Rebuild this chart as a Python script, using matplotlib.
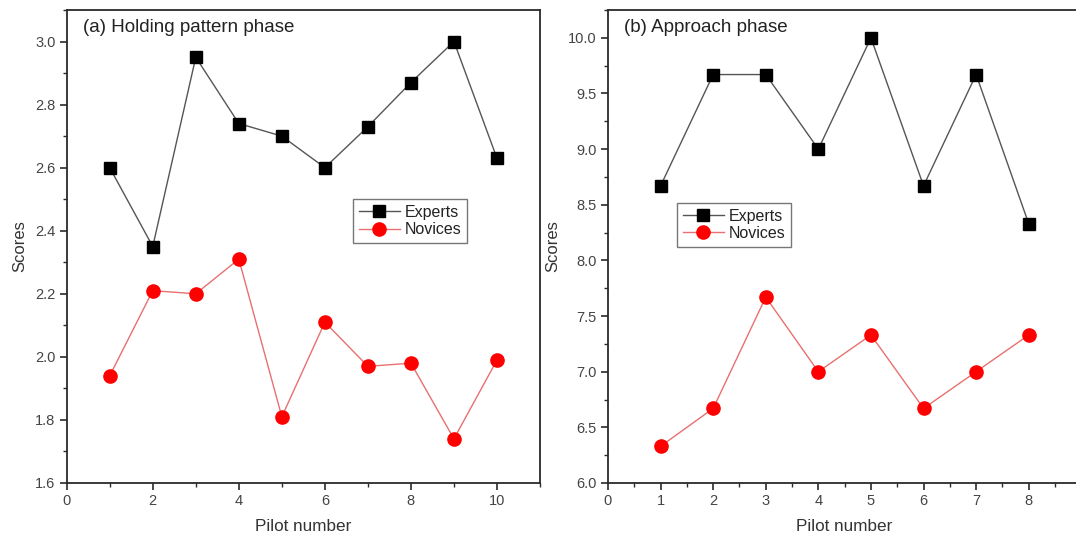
import matplotlib
matplotlib.use("Agg")
import matplotlib.pyplot as plt
from matplotlib.ticker import MultipleLocator

plt.rcParams['font.family'] = ['Liberation Sans', 'DejaVu Sans']

# Panel (a) data
pilots_a = [1, 2, 3, 4, 5, 6, 7, 8, 9, 10]
experts_a = [2.60, 2.35, 2.95, 2.74, 2.70, 2.60, 2.73, 2.87, 3.00, 2.63]
novices_a = [1.94, 2.21, 2.20, 2.31, 1.81, 2.11, 1.97, 1.98, 1.74, 1.99]

# Panel (b) data
pilots_b = [1, 2, 3, 4, 5, 6, 7, 8]
experts_b = [8.67, 9.67, 9.67, 9.00, 10.00, 8.67, 9.67, 8.33]
novices_b = [6.33, 6.67, 7.67, 7.00, 7.33, 6.67, 7.00, 7.33]

titles = ["(a) Holding pattern phase", "(b) Approach phase"]
series_names = ["Experts", "Novices"]

W, H = 1076, 536
fig = plt.figure(figsize=(W / 100, H / 100), dpi=100)

def px_axes(left, top, right, bottom):
    return fig.add_axes([left / W, 1 - bottom / H, (right - left) / W, (bottom - top) / H])

ax1 = px_axes(66.7, 10, 540, 483)
ax2 = px_axes(608, 10, 608 + 473.3, 483)

spine_col = '#2a2a2a'
tick_col = '#444444'

def style(ax, xlim, ylim, xmaj, xmin, ymaj, ymin, title, leg_xy):
    ax.set_xlim(*xlim)
    ax.set_ylim(*ylim)
    ax.xaxis.set_major_locator(MultipleLocator(xmaj))
    ax.xaxis.set_minor_locator(MultipleLocator(xmin))
    ax.yaxis.set_major_locator(MultipleLocator(ymaj))
    ax.yaxis.set_minor_locator(MultipleLocator(ymin))
    ax.tick_params(which='major', direction='out', length=5, width=1.2, color=spine_col,
                   labelsize=10.5, labelcolor=tick_col, pad=3)
    ax.tick_params(which='minor', direction='out', length=3, width=1.0, color=spine_col)
    for s in ax.spines.values():
        s.set_color(spine_col)
        s.set_linewidth(1.3)
    ax.set_xlabel("Pilot number", fontsize=12.3, color='#333333', labelpad=8)
    ax.set_ylabel("Scores", fontsize=12, color='#333333', labelpad=6)
    ax.text(0.034, 0.962, title, transform=ax.transAxes, fontsize=13.5, color='#222222',
            ha='left', va='center')
    leg = ax.legend(loc='upper left', bbox_to_anchor=leg_xy, fontsize=11.5,
                    frameon=True, fancybox=False, framealpha=1, edgecolor='#777777',
                    handlelength=2.6, handletextpad=0.3, borderpad=0.35,
                    labelspacing=0.15, borderaxespad=0)
    leg.get_frame().set_linewidth(1.0)
    for t in leg.get_texts():
        t.set_color('#222222')

def draw(ax, x, e, n):
    ax.plot(x, e, color='#555555', lw=1.0, marker='s', markersize=8.5,
            markerfacecolor='black', markeredgecolor='black', label=series_names[0], zorder=3)
    ax.plot(x, n, color='#e87070', lw=1.0, marker='o', markersize=9.5,
            markerfacecolor='#ff0000', markeredgecolor='#ff0000', label=series_names[1], zorder=3)

draw(ax1, pilots_a, experts_a, novices_a)
style(ax1, (0, 11), (1.6, 3.1), 2, 1, 0.2, 0.1, titles[0], (0.605, 0.600))

draw(ax2, pilots_b, experts_b, novices_b)
style(ax2, (0, 9), (6.0, 10.25), 1, 0.5, 0.5, 0.25, titles[1], (0.146, 0.592))

fig.savefig("out.png", dpi=100)
